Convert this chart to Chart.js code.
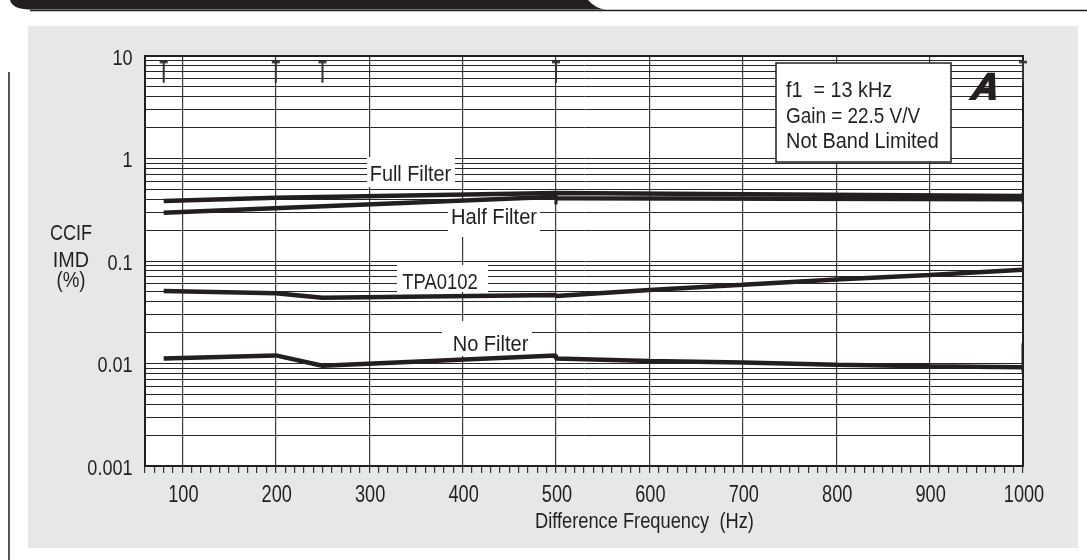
<!DOCTYPE html>
<html><head><meta charset="utf-8">
<script src="https://cdn.jsdelivr.net/npm/chart.js@4.4.1/dist/chart.umd.min.js"></script>
<style>
html,body{margin:0;padding:0;background:#fff;}
#wrap{position:relative;width:1087px;height:560px;}
</style></head><body>
<div id="wrap"><canvas id="c"></canvas></div>
<script>
// ---------------- data ----------------
const xTickValues = [100, 200, 300, 400, 500, 600, 700, 800, 900, 1000];
const yTickValues = [0.001, 0.01, 0.1, 1, 10];
const yTickLabels = ['0.001', '0.01', '0.1', '1', '10'];

const fullFilterHz  = [80, 200, 500, 1000];
const fullFilterPct = [0.385, 0.415, 0.46, 0.43];

const halfFilterHz  = [80, 500, 500, 1000];
const halfFilterPct = [0.296, 0.424, 0.41, 0.40];

const tpaHz  = [80, 200, 250, 500, 500, 600, 700, 800, 900, 1000];
const tpaPct = [0.0509, 0.0484, 0.0438, 0.0466, 0.0455, 0.052, 0.0585, 0.066, 0.073, 0.082];

const noFilterHz  = [80, 200, 250, 500, 500, 600, 700, 800, 900, 1000];
const noFilterPct = [0.0112, 0.0120, 0.0095, 0.0120, 0.0112, 0.0106, 0.0102, 0.0097, 0.0094, 0.0092];

// sweep end bars (vertical strokes), null separates them
const sweepBarHz  = [500, 500, 500, 1000, 1000, 1000, 1000, 1000];
const sweepBarPct = [0.47, 0.355, null, 0.465, 0.368, null, 0.0158, 0.0082];

// small "T" markers along the top edge
const topMarkHz  = [80, 200, 250, 500, 1000];
const topMarkPct = [8.8, 8.8, 8.8, 8.8, 8.8];

const seriesNames = ['Full Filter', 'Half Filter', 'TPA0102', 'No Filter'];
const infoLines = ['f1  = 13 kHz', 'Gain = 22.5 V/V', 'Not Band Limited'];
const yTitleLines = ['CCIF', 'IMD', '(%)'];
const xTitle = 'Difference Frequency  (Hz)';

// ---------------- helpers ----------------
const FONT = '"Liberation Sans",Arial,Roboto,sans-serif';
const INK = '#231f20';
const pts = (xs, ys) => xs.map((x, i) => ({x: x, y: ys[i]}));

// condensed text (horizontal squeeze of the face)
function ctext(ctx, text, x, y, align, sx) {
  ctx.save();
  ctx.translate(x, y);
  ctx.scale(sx, 1);
  ctx.textAlign = align;
  ctx.textBaseline = 'alphabetic';
  ctx.fillText(text, 0, 0);
  ctx.restore();
}

// grid values for log axis: 1..9 in each decade
const yGrid = [];
for (let d = 0; d < yTickValues.length - 1; d++) {
  for (let k = 1; k <= 9; k++) yGrid.push(+(yTickValues[d] * k).toPrecision(6));
}
yGrid.push(yTickValues[yTickValues.length - 1]);
const xGrid = [];
for (let v = 60; v <= 1000; v += 10) xGrid.push(v);

// T marker image
const tMark = document.createElement('canvas');
tMark.width = 10; tMark.height = 44;
(function () {
  const g = tMark.getContext('2d');
  g.fillStyle = '#333';
  g.fillRect(1, 21, 8, 2.5);
  g.fillRect(4, 22, 2, 21);
})();

// label boxes (annotation layout)
const labelBoxes = [
  {text: seriesNames[0], x0: 367, y0: 157, x1: 455, y1: 187, tx: 410.5, ty: 181, sx: 0.9},
  {text: seriesNames[1], x0: 448, y0: 201, x1: 540, y1: 237, tx: 494, ty: 224, sx: 0.915},
  {text: seriesNames[2], x0: 397, y0: 265, x1: 488, y1: 292, tx: 440, ty: 289, sx: 0.84},
  {text: seriesNames[3], x0: 442, y0: 321, x1: 532, y1: 356, tx: 490.5, ty: 351, sx: 0.91}
];

const decor = {
  id: 'decor',
  beforeDraw(chart) {
    const ctx = chart.ctx;
    ctx.save();
    ctx.fillStyle = '#e6e7e8';
    ctx.fillRect(28, 26, 1050, 522);
    ctx.fillStyle = INK;
    ctx.beginPath();
    ctx.moveTo(10, 0);
    ctx.lineTo(588, 0);
    ctx.quadraticCurveTo(596, 9, 606, 9.5);
    ctx.lineTo(30, 9.5);
    ctx.quadraticCurveTo(12, 9, 10, 0);
    ctx.closePath();
    ctx.fill();
    ctx.strokeStyle = INK;
    ctx.lineWidth = 1.5;
    ctx.beginPath();
    ctx.moveTo(30, 10.5); ctx.lineTo(1087, 10.5);
    ctx.stroke();
    ctx.strokeStyle = '#555';
    ctx.lineWidth = 2;
    ctx.beginPath();
    ctx.moveTo(9, 72); ctx.lineTo(9, 560);
    ctx.stroke();
    const a = chart.chartArea;
    ctx.fillStyle = '#fff';
    ctx.fillRect(a.left, a.top, a.right - a.left, a.bottom - a.top);
    ctx.restore();
  },
  beforeDatasetsDraw(chart) {
    const ctx = chart.ctx;
    const a = chart.chartArea;
    ctx.save();
    ctx.font = '22px ' + FONT;
    labelBoxes.forEach(b => {
      ctx.fillStyle = '#fff';
      ctx.fillRect(b.x0, b.y0, b.x1 - b.x0, b.y1 - b.y0);
      ctx.fillStyle = INK;
      ctext(ctx, b.text, b.tx, b.ty, 'center', b.sx);
    });
    ctx.strokeStyle = INK;
    ctx.lineWidth = 2;
    ctx.strokeRect(a.left, a.top, a.right - a.left, a.bottom - a.top);
    ctx.restore();
  },
  afterDraw(chart) {
    const ctx = chart.ctx;
    const xs = chart.scales.x, ys = chart.scales.y;
    ctx.save();
    ctx.fillStyle = INK;
    // tick labels
    ctx.font = '23px ' + FONT;
    xTickValues.forEach(v => ctext(ctx, String(v), xs.getPixelForValue(v) + 1, 501.8, 'center', 0.79));
    ctx.font = '22px ' + FONT;
    yTickValues.forEach((v, i) => ctext(ctx, yTickLabels[i], 132.5, ys.getPixelForValue(v) + 8.5, 'right', 0.82));
    // info box
    ctx.fillStyle = '#fff';
    ctx.fillRect(776, 63, 175, 99);
    ctx.strokeStyle = INK;
    ctx.lineWidth = 1.5;
    ctx.strokeRect(776, 63, 175, 99);
    ctx.fillStyle = INK;
    const lb = [96.7, 123.3, 148.3];
    const lsx = [0.9, 0.86, 0.905];
    infoLines.forEach((t, i) => ctext(ctx, t, 786, lb[i], 'left', lsx[i]));
    // panel letter
    ctx.font = 'italic bold 37px ' + FONT;
    ctx.lineWidth = 1.8;
    ctx.strokeStyle = INK;
    ctx.save();
    ctx.translate(984, 99);
    ctx.transform(1, 0, -0.14, 1, 0, 0);
    ctx.textAlign = 'center';
    ctx.fillText('A', 0, 0);
    ctx.strokeText('A', 0, 0);
    ctx.restore();
    // y title
    ctx.font = '22px ' + FONT;
    const tb = [240, 266.7, 287];
    const tsx = [0.82, 0.9, 0.85];
    yTitleLines.forEach((t, i) => ctext(ctx, t, 71, tb[i], 'center', tsx[i]));
    // x title
    ctext(ctx, xTitle, 535, 528.3, 'left', 0.83);
    ctx.restore();
  }
};

const lineStyle = {
  borderColor: INK, backgroundColor: INK, borderWidth: 4.5,
  pointRadius: 0, fill: false, tension: 0, borderJoinStyle: 'bevel', borderCapStyle: 'butt'
};

new Chart(document.getElementById('c'), {
  type: 'line',
  data: {
    datasets: [
      Object.assign({label: seriesNames[0], data: pts(fullFilterHz, fullFilterPct)}, lineStyle),
      Object.assign({label: seriesNames[1], data: pts(halfFilterHz, halfFilterPct)}, lineStyle),
      Object.assign({label: seriesNames[2], data: pts(tpaHz, tpaPct)}, lineStyle),
      Object.assign({label: seriesNames[3], data: pts(noFilterHz, noFilterPct)}, lineStyle),
      Object.assign({label: 'sweep ends', data: pts(sweepBarHz, sweepBarPct), spanGaps: false}, lineStyle, {borderWidth: 3}),
      {label: 'top marks', data: pts(topMarkHz, topMarkPct), showLine: false,
       pointStyle: tMark, pointRadius: 5, clip: false}
    ]
  },
  options: {
    responsive: true, maintainAspectRatio: false, animation: false,
    layout: {padding: {left: 0, top: 56, right: 64, bottom: 0}},
    plugins: {legend: {display: false}, title: {display: false}, tooltip: {enabled: false}},
    scales: {
      x: {
        type: 'linear', min: 60, max: 1000,
        afterBuildTicks: s => { s.ticks = xGrid.map(v => ({value: v})); },
        afterFit: s => { s.height = 94; },
        ticks: {display: false, autoSkip: false, maxRotation: 0, minRotation: 0},
        grid: {
          color: c => (c.tick && c.tick.value % 100 === 0) ? '#3a3a3a' : 'rgba(0,0,0,0)',
          tickColor: '#333', tickLength: 7, lineWidth: 1.2, drawTicks: true
        },
        border: {display: true, color: INK, width: 2}
      },
      y: {
        type: 'logarithmic', min: 0.001, max: 10,
        afterBuildTicks: s => { s.ticks = yGrid.map(v => ({value: v})); },
        afterFit: s => { s.width = 145; },
        ticks: {display: false, autoSkip: false},
        grid: {color: '#262626', lineWidth: 1, drawTicks: false},
        border: {display: true, color: INK, width: 2}
      }
    }
  },
  plugins: [decor]
});
</script>
</body></html>
